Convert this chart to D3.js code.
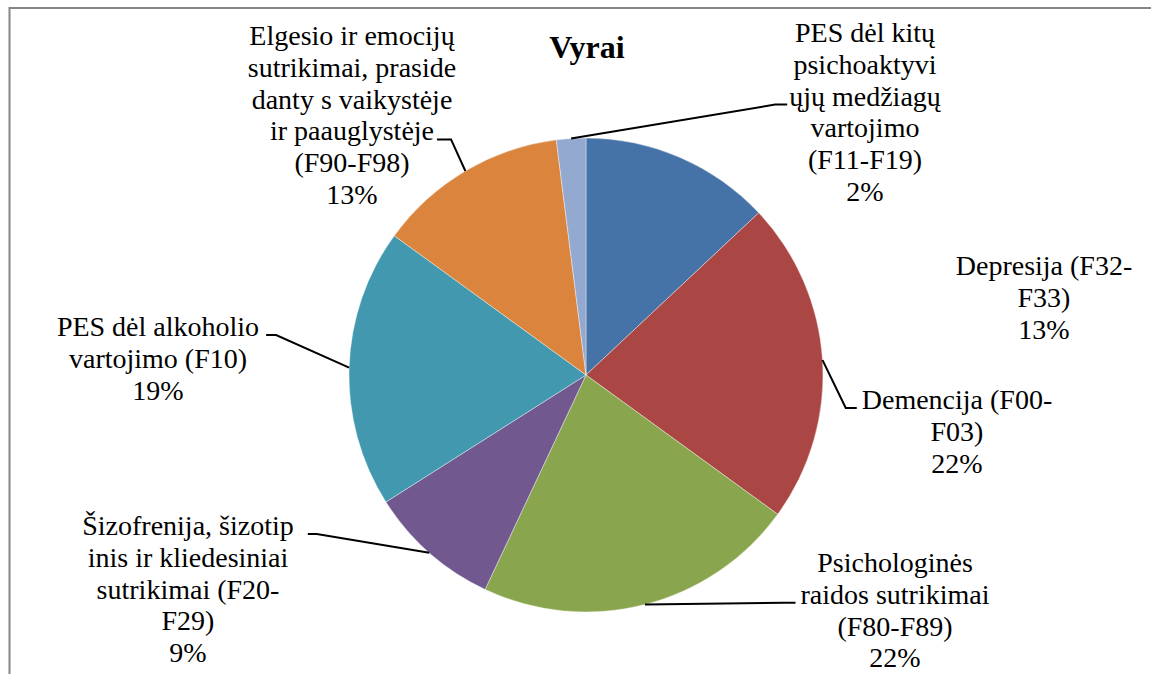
<!DOCTYPE html>
<html>
<head>
<meta charset="utf-8">
<script src="https://cdn.jsdelivr.net/npm/d3@7"></script>
</head>
<body style="margin:0">
<svg id="chart" width="1151" height="674"></svg>
<script>
// series, clockwise from 12 o'clock
var categories = [
    'Depresija (F32-F33)',
    'Demencija (F00-F03)',
    'Psichologinės raidos sutrikimai (F80-F89)',
    'Šizofrenija, šizotipinis ir kliedesiniai sutrikimai (F20-F29)',
    'PES dėl alkoholio vartojimo (F10)',
    'Elgesio ir emocijų sutrikimai, prasidedantys vaikystėje ir paauglystėje (F90-F98)',
    'PES dėl kitų psichoaktyviųjų medžiagų vartojimo (F11-F19)'
];
var values = [13, 22, 22, 9, 19, 13, 2];
var colors = ['#4572a7', '#aa4643', '#89a54e', '#71588f', '#4198af', '#db843d', '#93a9cf'];

// category text as it is wrapped in the picture
var labelLines = [
    ['Depresija (F32-', 'F33)'],
    ['Demencija (F00-', 'F03)'],
    ['Psichologinės', 'raidos sutrikimai', '(F80-F89)'],
    ['Šizofrenija, šizotip', 'inis ir kliedesiniai', 'sutrikimai (F20-', 'F29)'],
    ['PES dėl alkoholio', 'vartojimo (F10)'],
    ['Elgesio ir emocijų', 'sutrikimai, praside', 'danty s vaikystėje', 'ir paauglystėje', '(F90-F98)'],
    ['PES dėl kitų', 'psichoaktyvi', 'ųjų medžiagų', 'vartojimo', '(F11-F19)']
];
var title = 'Vyrai';

// layout: label centre x, first baseline, and where the leader meets the text
var layout = [
    { x: 1044, y: 275, leader: null },
    { x: 957, y: 409, leader: { side: 'left', line: 0, gap: 5, stub: 11 } },
    { x: 895, y: 572, leader: { side: 'left', line: 1, gap: 5, stub: 11 } },
    { x: 188, y: 535, leader: { side: 'right', line: 0, gap: 14, stub: 9 } },
    { x: 158, y: 336, leader: { side: 'right', line: 0, gap: 7, stub: 10 } },
    { x: 352, y: 45, leader: { side: 'right', line: 3, gap: 3, stub: 14 } },
    { x: 865, y: 42, leader: { side: 'left', line: 2, gap: 2, stub: 12 } }
];

var params = {
    cx: 586,
    cy: 375,
    radius: 237,
    font: 'Times New Roman',
    font_size: 28,
    line_height: 31.8
};

var svg = d3.select('#chart');

// chart area border, only top and left edges are inside the picture
svg.append('rect')
    .attr('x', 9.5)
    .attr('y', 8)
    .attr('width', 1400)
    .attr('height', 900)
    .attr('fill', 'none')
    .attr('stroke', '#868686')
    .attr('stroke-width', 2);

svg.append('text')
    .attr('x', 587)
    .attr('y', 58)
    .attr('text-anchor', 'middle')
    .style('font-family', params.font)
    .style('font-size', '32px')
    .style('font-weight', 'bold')
    .text(title);

var data = values.map(function(v, i) {
    return { name: categories[i], value: v, color: colors[i], lines: labelLines[i], pos: layout[i] };
});

var pie = d3.pie().sort(null).value(function(d) { return d.value; });
var arc = d3.arc().innerRadius(0).outerRadius(params.radius);
var edge = d3.arc().innerRadius(params.radius).outerRadius(params.radius);

var arcs = pie(data);

var g = svg.append('g')
    .attr('transform', 'translate(' + params.cx + ',' + params.cy + ')');

g.selectAll('path.slice')
    .data(arcs)
    .enter().append('path')
    .attr('class', 'slice')
    .attr('d', arc)
    .attr('fill', function(d) { return d.data.color; })
    .attr('stroke', '#fff')
    .attr('stroke-width', 0.4);

// labels, one text per line
var labels = svg.append('g').attr('class', 'labels');
arcs.forEach(function(a) {
    var d = a.data;
    var lines = d.lines.concat([d.value + '%']);
    var spans = lines.map(function(line, i) {
        return labels.append('text')
            .attr('x', d.pos.x)
            .attr('y', d.pos.y + i * params.line_height)
            .attr('text-anchor', 'middle')
            .style('font-family', params.font)
            .style('font-size', params.font_size + 'px')
            .text(line);
    });

    var ld = d.pos.leader;
    if (!ld) { return; }
    var w = spans[ld.line].node().getComputedTextLength();
    var ly = d.pos.y + ld.line * params.line_height - 1;
    var tx = ld.side == 'left' ? d.pos.x - w / 2 - ld.gap : d.pos.x + w / 2 + ld.gap;
    var kx = ld.side == 'left' ? tx - ld.stub : tx + ld.stub;
    var p = edge.centroid(a);

    labels.append('path')
        .attr('d', d3.line()([[p[0] + params.cx, p[1] + params.cy], [kx, ly], [tx, ly]]))
        .attr('fill', 'none')
        .attr('stroke', '#000')
        .attr('stroke-width', 2);
});
</script>
</body>
</html>
